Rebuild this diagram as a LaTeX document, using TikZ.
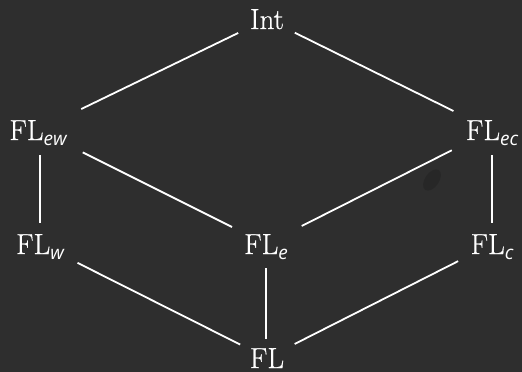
\documentclass[tikz,border=0pt]{standalone}
\usepackage{fontspec}
\setmainfont{Latin Modern Roman}[FakeBold=0.5]
\newfontfamily\subfont{Open Sans}
\definecolor{board}{RGB}{46,46,46}
\definecolor{smudge}{RGB}{30,30,30}
\newcommand{\sbx}[1]{\raisebox{-5pt}{\fontsize{19}{20}\selectfont\subfont\itshape #1}}
\begin{document}
\begin{tikzpicture}[x=1pt,y=-1pt,
  lat/.style={text=white,font=\fontsize{29}{34}\selectfont,anchor=center,
    text height=20pt,text depth=0pt,inner sep=0pt},
  edge/.style={draw=white,line width=1.8pt}]
\fill[board] (0,0) rectangle (522,372);
\useasboundingbox (0,0) rectangle (522,372);
\fill[smudge,opacity=0.4,rotate around={-35:(432,180)}] (432,180) ellipse (7 and 12);
\node[lat] (int) at (267,19) {Int};
\node[lat] (few) at (38,130) {FL\sbx{ew}};
\node[lat] (fec) at (492,130) {FL\sbx{ec}};
\node[lat] (fw)  at (40,244) {FL\sbx{w}};
\node[lat] (fe)  at (266,244) {FL\sbx{e}};
\node[lat] (fc)  at (492,244) {FL\sbx{c}};
\node[lat] (fl)  at (267,358) {FL};
\draw[edge,shorten <=32pt,shorten >=48pt] (int.center) -- (few.center);
\draw[edge,shorten <=31pt,shorten >=43pt] (int.center) -- (fec.center);
\draw[edge] ([yshift=-25pt]few.center -| fw.center) -- ([yshift=21pt]fw.center);
\draw[edge,shorten <=50pt,shorten >=38pt] (few.center) -- (fe.center);
\draw[edge,shorten <=45pt,shorten >=40pt] (fec.center) -- (fe.center);
\draw[edge] ([yshift=-25pt]fec.center) -- ([yshift=21pt]fc.center);
\draw[edge,shorten <=42pt,shorten >=30pt] (fw.center) -- (fl.center);
\draw[edge] ([yshift=-24pt]fe.center) -- ([yshift=19pt]fe.center |- fl.center);
\draw[edge,shorten <=38pt,shorten >=31pt] (fc.center) -- (fl.center);
\end{tikzpicture}
\end{document}
